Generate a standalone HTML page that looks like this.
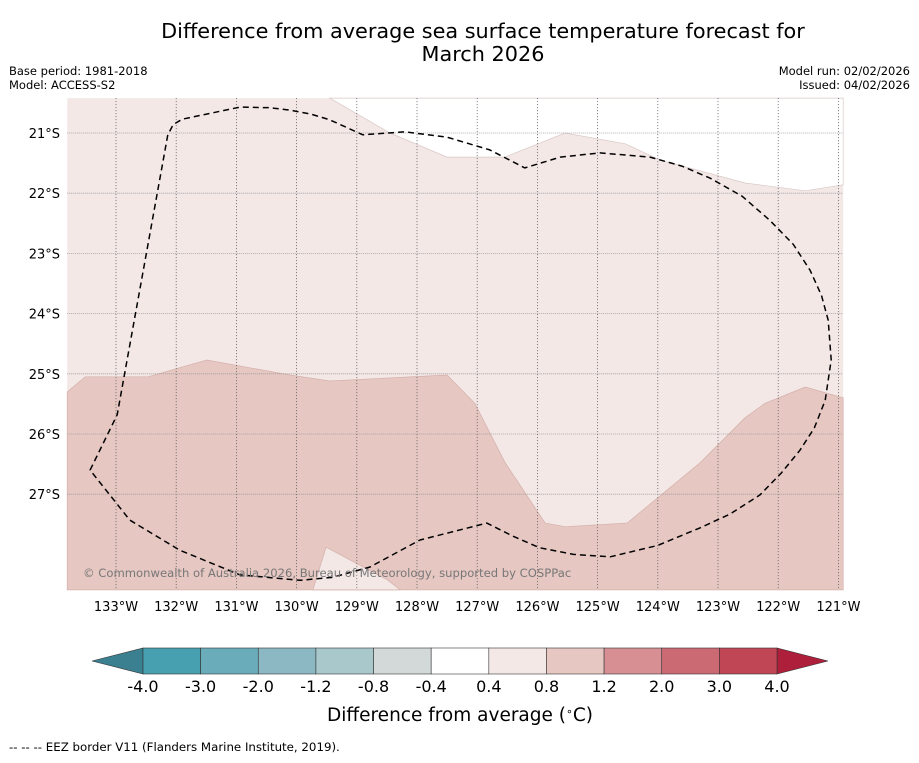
<!DOCTYPE html>
<html><head><meta charset="utf-8"><style>
body{margin:0;background:#fff;width:919px;height:758px;overflow:hidden;font-family:"Liberation Sans","DejaVu Sans",sans-serif}
text{font-family:"DejaVu Sans","Liberation Sans",sans-serif}
</style></head><body>
<svg id="chart" width="919" height="758" viewBox="0 0 919 758" xmlns="http://www.w3.org/2000/svg">
<text x="483" y="38" font-size="20.8" text-anchor="middle">Difference from average sea surface temperature forecast for</text>
<text x="483" y="61" font-size="20.8" text-anchor="middle">March 2026</text>
<text x="9" y="75" font-size="11.5">Base period: 1981-2018</text>
<text x="9" y="89" font-size="11.5">Model: ACCESS-S2</text>
<text x="910" y="75" font-size="11.5" text-anchor="end">Model run: 02/02/2026</text>
<text x="910" y="89" font-size="11.5" text-anchor="end">Issued: 04/02/2026</text>
<g id="map"></g>
<g id="cbar"></g>
<text x="460" y="721" font-size="18.5" text-anchor="middle">Difference from average (<tspan baseline-shift="super" font-size="11">∘</tspan>C)</text>
<text x="9" y="751" font-size="11.8">--  --  -- EEZ border V11 (Flanders Marine Institute, 2019).</text>
</svg>
<script>
const lonTicks=[-133,-132,-131,-130,-129,-128,-127,-126,-125,-124,-123,-122,-121];
const latTicks=[-21,-22,-23,-24,-25,-26,-27];
const extent=[-133.81,-120.92,-20.42,-28.59];
const whiteTop=[[-129.45,-20.42],[-128.45,-21.0],[-127.5,-21.4],[-126.54,-21.4],[-125.54,-21.0],[-124.54,-21.18],[-123.96,-21.45],[-122.55,-21.83],[-121.55,-21.96],[-120.92,-21.86],[-120.92,-20.42]];
const darkRegion=[[-133.81,-25.3],[-133.51,-25.05],[-132.47,-25.05],[-131.49,-24.77],[-130.11,-25.02],[-129.45,-25.12],[-127.5,-25.02],[-127.04,-25.49],[-126.54,-26.47],[-125.87,-27.48],[-125.54,-27.54],[-124.51,-27.48],[-123.3,-26.48],[-122.55,-25.73],[-122.22,-25.49],[-121.55,-25.22],[-120.92,-25.4],[-120.92,-28.59],[-133.81,-28.59]];
const lightBottom=[[-129.73,-28.59],[-129.51,-27.88],[-128.48,-28.43],[-128.28,-28.59]];
const eez=[[-133.43,-26.6],[-132.98,-25.68],[-132.14,-21.03],[-132.05,-20.86],[-131.9,-20.77],[-130.94,-20.57],[-130.45,-20.58],[-130.11,-20.62],[-129.75,-20.69],[-129.45,-20.78],[-128.9,-21.03],[-128.2,-20.98],[-127.5,-21.07],[-126.79,-21.28],[-126.21,-21.58],[-125.62,-21.4],[-124.96,-21.33],[-124.13,-21.4],[-123.6,-21.55],[-123.13,-21.75],[-122.6,-22.05],[-122.14,-22.45],[-121.75,-22.85],[-121.47,-23.28],[-121.28,-23.7],[-121.17,-24.11],[-121.12,-24.77],[-121.22,-25.44],[-121.4,-25.9],[-121.64,-26.27],[-121.95,-26.65],[-122.3,-27.01],[-122.8,-27.33],[-123.3,-27.56],[-124.0,-27.85],[-124.79,-28.04],[-125.4,-28.0],[-125.96,-27.89],[-126.4,-27.7],[-126.84,-27.48],[-127.95,-27.76],[-128.78,-28.21],[-129.4,-28.38],[-129.94,-28.43],[-130.94,-28.34],[-131.94,-27.93],[-132.77,-27.43]];
const cbarLevels=["-4.0","-3.0","-2.0","-1.2","-0.8","-0.4","0.4","0.8","1.2","2.0","3.0","4.0"];
const cbarColors=["#46a0b0","#6aacb9","#8cb8c3","#a9c8cc","#d3d9d9","#ffffff","#f4e8e7","#e6c7c2","#d78f94","#cc6a74","#c04656"];
const NS="http://www.w3.org/2000/svg";
const D=60.2;
const X=lon=>116+(lon+133)*D;
const Y=lat=>133-(lat+21)*D;
const map=document.getElementById('map');
function mk(tag,attrs,parent){const e=document.createElementNS(NS,tag);for(const k in attrs)e.setAttribute(k,attrs[k]);parent.appendChild(e);return e;}
const pts=a=>a.map(p=>X(p[0]).toFixed(1)+","+Y(p[1]).toFixed(1)).join(" ");
const x0=X(extent[0]),x1=X(extent[1]),y0=Y(extent[2]),y1=Y(extent[3]);
let r=mk('rect',{x:x0,y:y0,width:x1-x0,height:y1-y0,fill:'#f4e8e7'},map);


let w=mk('polygon',{points:pts(whiteTop),fill:'#ffffff',stroke:'#d8c8c6','stroke-width':0.7},map);


let dk=mk('polygon',{points:pts(darkRegion),fill:'#e6c7c2',stroke:'#d4b0ab','stroke-width':0.7},map);


let lb=mk('polygon',{points:pts(lightBottom),fill:'#f4e8e7',stroke:'#d4b0ab','stroke-width':0.7},map);


lonTicks.forEach(l=>{
 const g=mk('line',{x1:X(l),x2:X(l),y1:y0,y2:y1,stroke:'#555','stroke-width':0.8,'stroke-dasharray':'1,2'},map);
 
 
 const t=mk('text',{x:X(l),y:y1+21,'font-size':13,'text-anchor':'middle'},map);
 
 
 t.textContent=(-l)+"°W";
});
latTicks.forEach(l=>{
 const g=mk('line',{x1:x0,x2:x1,y1:Y(l),y2:Y(l),stroke:'#999','stroke-width':0.8,'stroke-dasharray':'1,1'},map);
 
 
 const t=mk('text',{x:60,y:Y(l)+5,'font-size':13,'text-anchor':'end'},map);
 
 
 t.textContent=(-l)+"°S";
});
let e=mk('polygon',{points:pts(eez),fill:'none',stroke:'#000','stroke-width':1.5,'stroke-dasharray':'6,4','stroke-linejoin':'round'},map);


let c=mk('text',{x:83,y:577,'font-size':11.6,fill:'#777'},map);


c.textContent="© Commonwealth of Australia 2026, Bureau of Meteorology, supported by COSPPac";
const cb=document.getElementById('cbar');
const cx0=143,cx1=777,cy0=648,cy1=674,sw=(cx1-cx0)/cbarColors.length;
let lt=mk('polygon',{points:`92,661 ${cx0},${cy0} ${cx0},${cy1}`,fill:'#3a8090',stroke:'#333','stroke-width':0.6},cb);


let rt=mk('polygon',{points:`828,661 ${cx1},${cy0} ${cx1},${cy1}`,fill:'#ad1f3a',stroke:'#333','stroke-width':0.6},cb);


cbarColors.forEach((col,i)=>{
 const s=mk('rect',{x:cx0+i*sw,y:cy0,width:sw,height:cy1-cy0,fill:col,stroke:'#333','stroke-width':0.6},cb);
 
 
});
cbarLevels.forEach((v,i)=>{
 const t=mk('text',{x:cx0+i*sw,y:692,'font-size':16,'text-anchor':'middle'},cb);
 
 
 t.textContent=v;
});
</script>
</body></html>
